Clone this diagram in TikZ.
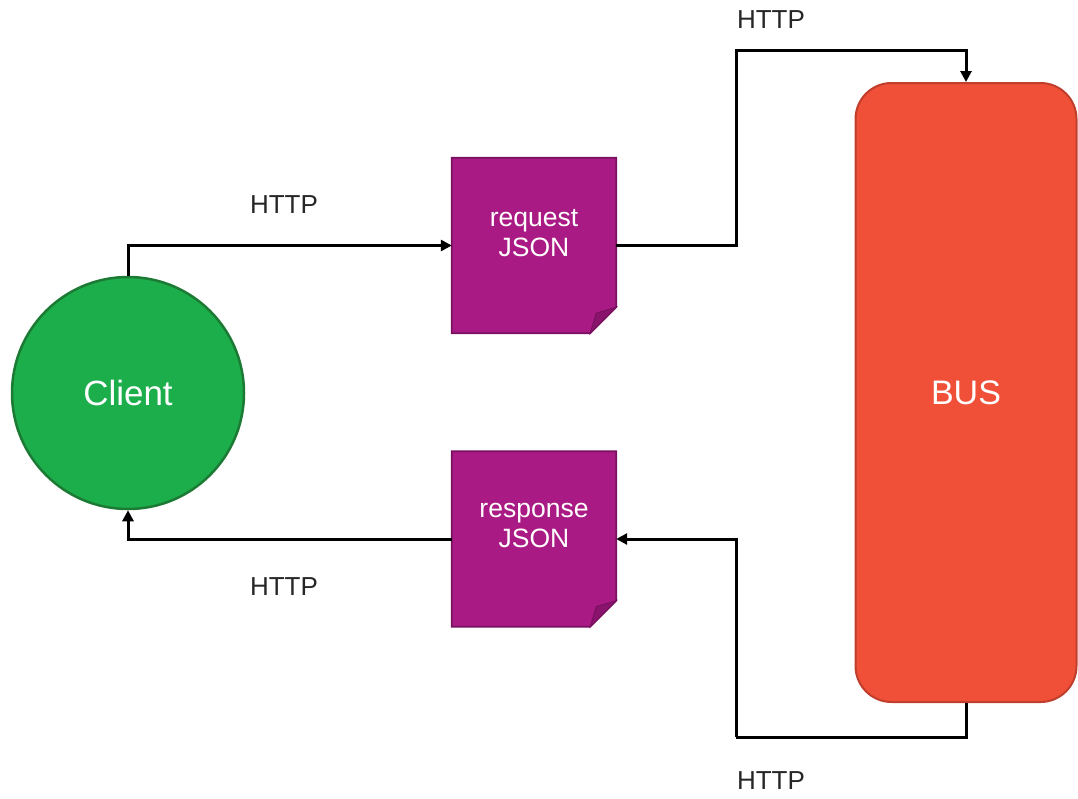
\documentclass[tikz,border=0pt]{standalone}
\usepackage{fontspec}
\setmainfont{Liberation Sans}
\usetikzlibrary{arrows.meta}
\definecolor{cgreen}{RGB}{27,174,75}
\definecolor{cgreenb}{RGB}{28,122,52}
\definecolor{cpurple}{RGB}{170,26,133}
\definecolor{cpurpleb}{RGB}{122,16,96}
\definecolor{cfold}{RGB}{138,20,108}
\definecolor{cred}{RGB}{240,79,56}
\definecolor{credb}{RGB}{192,62,44}
\tikzset{
  conn/.style={line width=3pt, -{Triangle[length=11pt,width=11pt]}},
  plain/.style={line width=3pt},
  docbox/.style={rectangle, minimum width=164pt, minimum height=175pt, inner sep=0pt},
  doctext/.style={text=white, font=\fontsize{26.5}{30}\selectfont, align=center},
  lbl/.style={font=\fontsize{26}{30}\selectfont, text=black!85},
}
\begin{document}
\begin{tikzpicture}[x=1pt,y=-1pt]
\useasboundingbox (0,0) rectangle (1078,798);
% Client
\node[circle, minimum size=232pt, fill=cgreen, draw=cgreenb, line width=2.5pt,
      text=white, font=\fontsize{35}{40}\selectfont] (client) at (128,393) {Client};
% BUS
\node[rectangle, rounded corners=36pt, minimum width=221pt, minimum height=619pt,
      fill=cred, draw=credb, line width=2pt,
      text=white, font=\fontsize{34}{40}\selectfont] (bus) at (966,392.5) {BUS};
% documents
\node[docbox] (req) at (534,245.5) {};
\node[docbox] (resp) at (534,539) {};
\foreach \d in {req,resp}{
  \fill[cpurple, draw=cpurpleb, line width=1.8pt]
    (\d.north west) -- (\d.north east) -- ([yshift=26pt]\d.south east)
    -- ([xshift=-26pt]\d.south east) -- (\d.south west) -- cycle;
  \fill[cfold, draw=cpurpleb, line width=1pt]
    ([xshift=-26pt]\d.south east) -- ([yshift=26pt]\d.south east)
    -- ([xshift=-20pt,yshift=20pt]\d.south east) -- cycle;
}
\node[doctext] (reqtxt) at ([yshift=12pt]req.center) {request\\JSON};
\node[doctext] (resptxt) at ([yshift=14pt]resp.center) {response\\JSON};
% junctions
\coordinate (j1) at (736,50);
\coordinate (j2) at (736,737);
% connectors
\draw[conn] (client.north) |- (req.west);
\draw[conn] (req.east) -| (j1) -| (bus.north);
\draw[plain] (bus.south) |- (j2);
\draw[conn] (j2) |- (resp.east);
\draw[conn] (resp.west) -| (client.south);
% labels
\node[lbl] (l1) at (284,205) {HTTP};
\node[lbl] (l2) at (284,587) {HTTP};
\node[lbl] (l3) at (771,20) {HTTP};
\node[lbl] (l4) at (771,781) {HTTP};
\end{tikzpicture}
\end{document}
